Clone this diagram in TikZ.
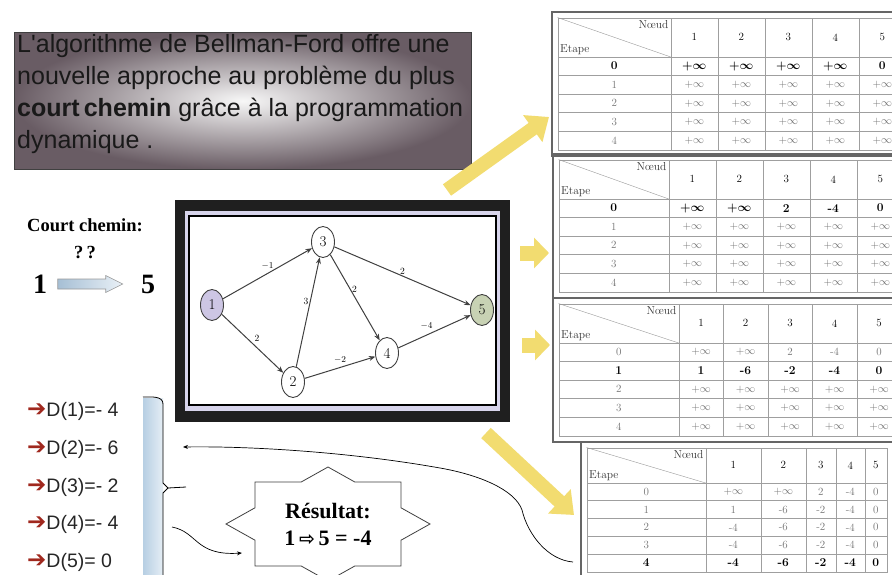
\documentclass[tikz,border=0pt]{standalone}
\usepackage{fontspec}
\usepackage{tikz}
\usetikzlibrary{arrows.meta,shapes.geometric,matrix,positioning}
\newfontfamily\arialfont{Liberation Sans}
\newfontfamily\timesfont{Liberation Serif}
\newfontfamily\dejavu{DejaVu Sans}
\definecolor{yarrow}{RGB}{242,220,112}
\definecolor{arrowred}{RGB}{160,40,30}
\definecolor{lavnode}{RGB}{205,198,228}
\definecolor{grnnode}{RGB}{200,210,180}
\definecolor{barblue}{RGB}{170,198,222}
\definecolor{boxdark}{RGB}{105,92,100}
\definecolor{framelav}{RGB}{215,212,235}

\tikzset{
  introbox/.style={shade, inner color=white!94!gray, outer color=boxdark,
    draw=black!75, line width=0.6pt, minimum width=457pt, minimum height=137pt,
    inner sep=0pt},
  introtext/.style={font=\arialfont\fontsize{25}{32}\selectfont, align=left,
    inner sep=0pt, text=black!90},
  dptable/.style={matrix of nodes, nodes in empty cells,
    column sep=-0.6pt, row sep=-0.6pt,
    nodes={draw=gray!75, line width=0.6pt, minimum height=18.6pt,
      minimum width=47pt, inner sep=0pt, anchor=center,
      font=\fontsize{11}{11}\selectfont, text=black!55},
    column 1/.style={nodes={minimum width=113pt}},
    row 1/.style={nodes={minimum height=39pt, text=black,
      font=\fontsize{11}{11}\selectfont}}},
  hlcell/.style={font=\fontsize{12}{12}\selectfont\bfseries\boldmath, text=black},
  tabframe/.style={draw=black!60, line width=2.2pt},
  headlbl/.style={font=\fontsize{11.5}{11.5}\selectfont, inner sep=2.5pt, text=black!80},
  gnode/.style={ellipse, draw=black!75, line width=0.9pt, minimum width=23pt,
    minimum height=31pt, inner sep=0pt, fill=white,
    font=\fontsize{15}{15}\selectfont},
  gedge/.style={-{Stealth[length=6.5pt,width=5pt]}, line width=1pt, draw=black!75},
  glabel/.style={font=\fontsize{9.5}{9.5}\selectfont, inner sep=1.5pt},
  ybig/.style={draw=yarrow, line width=14pt, -{Triangle[length=20pt,width=32pt]}},
  ysmall/.style={draw=yarrow, line width=15pt, -{Triangle[length=15pt,width=30pt]}},
  thinarr/.style={-{Stealth[length=5pt,width=4pt]}, line width=0.7pt, draw=black},
  cctext/.style={font=\timesfont\bfseries\fontsize{18.5}{18.5}\selectfont, inner sep=0pt},
  bigdigit/.style={font=\timesfont\bfseries\fontsize{28}{28}\selectfont, inner sep=0pt},
  blockarrow/.style={draw=gray!80, line width=0.6pt,
    left color=barblue!90!gray, right color=barblue!25},
  ditem/.style={font=\arialfont\fontsize{19.5}{19.5}\selectfont, anchor=west,
    inner sep=0pt, text=black!85},
  restext/.style={font=\timesfont\bfseries\fontsize{22}{27}\selectfont,
    align=center, inner sep=0pt}
}

\begin{document}
\begin{tikzpicture}[x=1pt,y=-1pt]
\useasboundingbox (0,0) rectangle (892,575);
\fill[white] (0,0) rectangle (892,575);

% intro text
\node[introbox, anchor=north west] (intro) at (14,32) {};
\node[introtext, anchor=north west] (introtxt) at (17,34) {L'algorithme de Bellman-Ford offre une\\
nouvelle approche au problème du plus\\
\textbf{court\,chemin} grâce à la programmation\\
dynamique .};

% tables
\matrix (t1) [dptable, anchor=north west, row 2/.style={nodes={hlcell}}] at (554,14) {
   & 1 & 2 & 3 & 4 & 5 \\
  0 & $+\infty$ & $+\infty$ & $+\infty$ & $+\infty$ & 0 \\
  1 & $+\infty$ & $+\infty$ & $+\infty$ & $+\infty$ & $+\infty$ \\
  2 & $+\infty$ & $+\infty$ & $+\infty$ & $+\infty$ & $+\infty$ \\
  3 & $+\infty$ & $+\infty$ & $+\infty$ & $+\infty$ & $+\infty$ \\
  4 & $+\infty$ & $+\infty$ & $+\infty$ & $+\infty$ & $+\infty$ \\
};
\matrix (t2) [dptable, anchor=north west, column 1/.style={nodes={minimum width=110pt}},
  row 2/.style={nodes={hlcell}}] at (555,156) {
   & 1 & 2 & 3 & 4 & 5 \\
  0 & $+\infty$ & $+\infty$ & 2 & -4 & 0 \\
  1 & $+\infty$ & $+\infty$ & $+\infty$ & $+\infty$ & $+\infty$ \\
  2 & $+\infty$ & $+\infty$ & $+\infty$ & $+\infty$ & $+\infty$ \\
  3 & $+\infty$ & $+\infty$ & $+\infty$ & $+\infty$ & $+\infty$ \\
  4 & $+\infty$ & $+\infty$ & $+\infty$ & $+\infty$ & $+\infty$ \\
};
\matrix (t3) [dptable, anchor=north west, column 1/.style={nodes={minimum width=120pt}},
  nodes={minimum width=44.5pt}, row 3/.style={nodes={hlcell}}] at (555,300) {
   & 1 & 2 & 3 & 4 & 5 \\
  0 & $+\infty$ & $+\infty$ & 2 & -4 & 0 \\
  1 & 1 & -6 & -2 & -4 & 0 \\
  2 & $+\infty$ & $+\infty$ & $+\infty$ & $+\infty$ & $+\infty$ \\
  3 & $+\infty$ & $+\infty$ & $+\infty$ & $+\infty$ & $+\infty$ \\
  4 & $+\infty$ & $+\infty$ & $+\infty$ & $+\infty$ & $+\infty$ \\
};
\matrix (t4) [dptable, anchor=north west, nodes={minimum height=17.8pt},
  column 1/.style={nodes={minimum width=119pt}},
  column 2/.style={nodes={minimum width=55pt}}, column 3/.style={nodes={minimum width=45pt}},
  column 4/.style={nodes={minimum width=30pt}}, column 5/.style={nodes={minimum width=29pt}},
  column 6/.style={nodes={minimum width=22pt}},
  row 1/.style={nodes={minimum height=35pt, text=black, font=\fontsize{11}{11}\selectfont}},
  row 6/.style={nodes={hlcell}}] at (583,444) {
   & 1 & 2 & 3 & 4 & 5 \\
  0 & $+\infty$ & $+\infty$ & 2 & -4 & 0 \\
  1 & 1 & -6 & -2 & -4 & 0 \\
  2 & -4 & -6 & -2 & -4 & 0 \\
  3 & -4 & -6 & -2 & -4 & 0 \\
  4 & -4 & -6 & -2 & -4 & 0 \\
};
\foreach \t in {t1,t2,t3,t4} {
  \draw[gray!80] (\t-1-1.north west) -- (\t-1-1.south east);
  \node[headlbl, anchor=north east] at (\t-1-1.north east) {N\oe ud};
  \node[headlbl, anchor=south west] at (\t-1-1.south west) {Etape};
  \draw[tabframe] ([xshift=-2pt,yshift=2pt]\t.north west) rectangle ([xshift=2pt,yshift=-2pt]\t.south east);
}

% yellow arrows
\coordinate (ya1s) at (447,190); \coordinate (ya1e) at (549,117);
\coordinate (ya2s) at (520,253); \coordinate (ya2e) at (549,253);
\coordinate (ya3s) at (522,345); \coordinate (ya3e) at (550,345);
\coordinate (ya4s) at (486,433); \coordinate (ya4e) at (574,515);
\draw[ybig] (ya1s) -- (ya1e);
\draw[ysmall] (ya2s) -- (ya2e);
\draw[ysmall] (ya3s) -- (ya3e);
\draw[ybig] (ya4s) -- (ya4e);

% graph panel
\fill[black!88] (175,200) rectangle (510,422);
\fill[framelav] (185,211) rectangle (500,411);
\draw[black, line width=1.4pt, fill=white] (189,216) rectangle (496,405);
\node[gnode, fill=lavnode] (v1) at (212,305) {1};
\node[gnode] (v3) at (323,242) {3};
\node[gnode] (v2) at (293,382) {2};
\node[gnode] (v4) at (387,353) {4};
\node[gnode, fill=grnnode] (v5) at (482,310) {5};
\draw[gedge] (v1) -- node[glabel, midway, above=2pt] {$-1$} (v3);
\draw[gedge] (v1) -- node[glabel, midway, above right] {2} (v2);
\draw[gedge] (v2) -- node[glabel, pos=0.6, left] {3} (v3);
\draw[gedge] (v3) -- node[glabel, pos=0.4, right] {2} (v4);
\draw[gedge] (v3) -- node[glabel, midway, above] {2} (v5);
\draw[gedge] (v2) -- node[glabel, midway, above=2pt] {$-2$} (v4);
\draw[gedge] (v4) -- node[glabel, midway, above left] {$-4$} (v5);

% court chemin
\node[cctext] (cc) at (85,225) {Court chemin:};
\node[cctext] (qq) at (85,253) {?\,?};
\node[bigdigit] (src) at (40,284) {1};
\node[bigdigit] (dst) at (148,284) {5};
\path (src) -- coordinate[pos=0.46] (sarrow) (dst);
\draw[blockarrow, shift={(sarrow)}] (-32.5,-5) -- (15.5,-5) -- (15.5,-8.5) -- (32.5,0)
  -- (15.5,8.5) -- (15.5,5) -- (-32.5,5) -- cycle;

% distances
\fill[left color=barblue!85, right color=barblue!30] (143,398) rectangle (163,575);
\foreach \v [count=\i] in {=- 4,=- 6,=- 2,=- 4,= 0}
  \node[ditem] (d\i) at (27,{374+37.7*\i}) {{\dejavu\bfseries\fontsize{23}{23}\selectfont\color{arrowred}➔}D(\i)\v};
\coordinate (brtip) at (168,488);
\coordinate (brend) at (186,487);
\draw[line width=0.8pt] (143,397) to[out=0,in=90] (163,404) -- (163,483) -- (brtip)
  -- (163,493) -- (163,575);
\draw[line width=0.8pt] (brtip) -- (brend);

% result star
\coordinate (rc) at (328,524);
\draw[fill=white, draw=black!75, line width=0.8pt, shift={(rc)}]
  (0,-57) -- (26.8,-42) -- (73,-42) -- (73,-16.2) -- (102,0) -- (73,16.2)
  -- (73,42) -- (26.8,42) -- (0,57) -- (-26.8,42) -- (-73,42) -- (-73,16.2)
  -- (-102,0) -- (-73,-16.2) -- (-73,-42) -- (-26.8,-42) -- cycle;
\node[restext] (res) at (rc) {Résultat:\\1\,{\dejavu\fontsize{19}{19}\selectfont ⇨}\,5 = -4};

% curved arrows
\coordinate (lc1) at (573,562); \coordinate (lc2) at (183,447);
\draw[thinarr] (lc1) .. controls (548,560) and (528,535) .. (522,510)
  .. controls (515,490) and (480,475) .. (440,468)
  .. controls (350,452) and (250,446) .. (lc2);
\coordinate (sc1) at (172,527); \coordinate (sc2) at (242,553);
\draw[thinarr] (sc1) .. controls (198,532) and (195,556) .. (sc2);
\end{tikzpicture}
\end{document}
